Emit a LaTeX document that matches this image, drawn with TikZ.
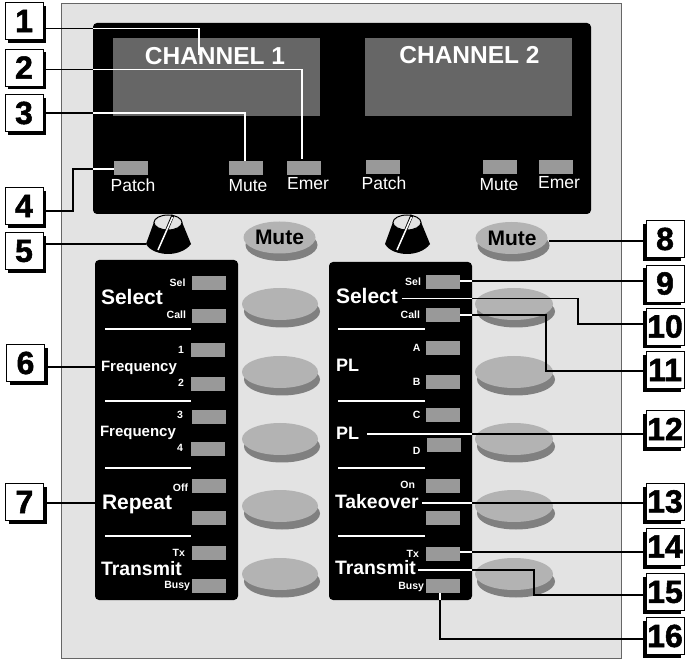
\documentclass[tikz,border=0pt]{standalone}
\usepackage{fontspec}
\setmainfont{Liberation Sans}
\newfontfamily\digitfont[FakeBold=1.6]{Liberation Sans Bold}
\usetikzlibrary{shadows,calc}
\definecolor{panelbg}{HTML}{E3E3E3}
\definecolor{screengray}{HTML}{666666}
\definecolor{ledgray}{HTML}{999999}
\definecolor{btntop}{HTML}{B3B3B3}
\definecolor{btnshade}{HTML}{808080}
\newcommand{\fsz}[1]{\fontsize{#1}{#1}\selectfont}
\tikzset{
  x=1pt,y=-1pt,
  ledbox/.style={fill=ledgray,minimum width=34pt,minimum height=14pt,inner sep=0pt,outer sep=0pt},
  darkpane/.style={fill=black,rounded corners=4pt},
  txt/.style={inner sep=0pt,outer sep=0pt,text=white},
  big/.style={txt,anchor=base west,font=\bfseries\fsz{21}},
  freq/.style={txt,anchor=base west,font=\bfseries\fsz{15}},
  tiny/.style={txt,anchor=base east,font=\bfseries\fsz{10.5}},
  plain/.style={txt,anchor=base,font=\fsz{17.5}},
  chan/.style={txt,anchor=base,font=\bfseries\fsz{24.5}},
  divider/.style={draw=white,line width=1.6pt},
  wire/.style={draw=white,line width=1.7pt},
  blackwire/.style={draw=black,line width=1.7pt},
  callL/.style={draw=black,fill=white,line width=.8pt,minimum width=38pt,minimum height=37pt,inner sep=0pt,font=\digitfont\fsz{32},text=black,
     drop shadow={shadow xshift=3pt,shadow yshift=-3.5pt,fill=black,opacity=1}},
  callR/.style={draw=black,fill=white,line width=.8pt,minimum width=38pt,minimum height=37pt,inner sep=0pt,font=\digitfont\fsz{32},text=black,
     drop shadow={shadow xshift=-3pt,shadow yshift=-3.5pt,fill=black,opacity=1}},
}
\newcommand{\btn}[3]{% cx, cy, rx
  \fill[btnshade] (#1+2,#2+7.5) ellipse [x radius=#3,y radius=16];
  \fill[btntop] (#1,#2) ellipse [x radius=#3,y radius=16];
}
\newcommand{\knob}[1]{% cx
  \fill[black] (#1-14,222) -- (#1-22,244) .. controls (#1-18,251) and (#1-8,254) .. (#1,254) .. controls (#1+8,254) and (#1+18,251) .. (#1+23,244) -- (#1+14,222) -- cycle;
  \draw[black,fill=panelbg,line width=1pt] (#1,222.5) ellipse [x radius=14,y radius=7.5];
  \draw[black,line width=3pt] (#1-10,251) -- (#1+5,215);
  \draw[white,line width=1.5pt] (#1-10,250) -- (#1+4.5,217);
}
\begin{document}
\begin{tikzpicture}
\useasboundingbox (0,0) rectangle (686,660);
\draw[draw=screengray,fill=panelbg,line width=1pt] (61,4) rectangle (621,658);
% display
\fill[darkpane] (93,23) rectangle (591,214);
\fill[screengray] (113,38) rectangle (320,116);
\fill[screengray] (365,38) rectangle (572,116);
\node[chan] (ch1) at (215,65) {CHANNEL 1};
\node[chan] (ch2) at (469.5,64) {CHANNEL 2};
\node[ledbox] (patchA) at (131,168) {};
\node[ledbox] (muteA) at (246,168) {};
\node[ledbox] (emerA) at (304,168) {};
\node[ledbox] (patchB) at (383,167) {};
\node[ledbox] (muteB) at (500,167) {};
\node[ledbox] (emerB) at (556,167) {};
\node[plain] (tpatchA) at (133,191.5) {Patch};
\node[plain] (tmuteA) at (248,191.5) {Mute};
\node[plain] (temerA) at (308,190) {Emer};
\node[plain] (tpatchB) at (384,190) {Patch};
\node[plain] (tmuteB) at (499,191) {Mute};
\node[plain] (temerB) at (559,189) {Emer};
% knobs and mute buttons
\knob{168}
\knob{407}
\btn{279.5}{237.5}{36}
\btn{511.5}{238}{36}
\node[txt,anchor=base,text=black,font=\bfseries\fsz{21}] (mA) at (279.5,245) {Mute};
\node[txt,anchor=base,text=black,font=\bfseries\fsz{21}] (mB) at (512,245.5) {Mute};
% buttons
\foreach \yy in {304,372,439,506,574}{
  \btn{280}{\yy}{38}
  \btn{514}{\yy}{39}
}
% lower panes
\fill[darkpane] (95,260) rectangle (238,600);
\fill[darkpane] (329,262) rectangle (472,600);
\foreach \yy in {329,401,468,536}{
  \draw[divider] (105,\yy) -- (191,\yy);
  \draw[divider] (338,\yy) -- (425,\yy);
}
% left LEDs
\node[ledbox] (lsel) at (209,283) {};
\node[ledbox] (lcall) at (209,316) {};
\node[ledbox] (l1) at (208,350) {};
\node[ledbox] (l2) at (208,384) {};
\node[ledbox] (l3) at (209,417) {};
\node[ledbox] (l4) at (208,449) {};
\node[ledbox] (loff) at (209,486) {};
\node[ledbox] (lblank) at (209,518) {};
\node[ledbox] (ltx) at (209,553) {};
\node[ledbox] (lbusy) at (209,586) {};
% right LEDs
\node[ledbox] (rsel) at (443,282) {};
\node[ledbox] (rcall) at (443,315) {};
\node[ledbox] (ra) at (443,348) {};
\node[ledbox] (rb) at (443,382) {};
\node[ledbox] (rc) at (443,415) {};
\node[ledbox] (rd) at (444,445) {};
\node[ledbox] (ron) at (443,486) {};
\node[ledbox] (rblank) at (443,518) {};
\node[ledbox] (rtx) at (443,554) {};
\node[ledbox] (rbusy) at (443,586) {};
% left labels
\node[big] (tselL) at (101,305) {Select};
\node[freq] (tf1) at (101,372) {Frequency};
\node[freq] (tf2) at (100,437) {Frequency};
\node[big] (trep) at (102,509) {Repeat};
\node[big,font=\bfseries\fsz{19.4}] (ttxL) at (101,575) {Transmit};
\node[tiny] at (185.5,287) {Sel};
\node[tiny] at (186,319) {Call};
\node[tiny] at (184,354) {1};
\node[tiny] at (184,387) {2};
\node[tiny] at (183,419) {3};
\node[tiny] at (183,452) {4};
\node[tiny] at (188,491) {Off};
\node[tiny] at (185,556) {Tx};
\node[tiny] at (190,588) {Busy};
% right labels
\node[big] (tselR) at (336,304) {Select};
\node[big,font=\bfseries\fsz{18}] (tpl1) at (336,372) {PL};
\node[big,font=\bfseries\fsz{18}] (tpl2) at (336,439) {PL};
\node[big,font=\bfseries\fsz{19.4}] (ttake) at (335,508) {Takeover};
\node[big,font=\bfseries\fsz{19.4}] (ttxR) at (335,574) {Transmit};
\node[tiny] at (421,286) {Sel};
\node[tiny] at (420,319) {Call};
\node[tiny] at (420.5,352) {A};
\node[tiny] at (420.5,386) {B};
\node[tiny] at (420.5,419) {C};
\node[tiny] at (420.5,454) {D};
\node[tiny] at (415,489) {On};
\node[tiny] at (419,557) {Tx};
\node[tiny] at (424,589) {Busy};
% callouts
\node[callL] (b1) at (24,21) {1};
\node[callL] (b2) at (24,67.5) {2};
\node[callL] (b3) at (24,113) {3};
\node[callL] (b4) at (24,206) {4};
\node[callL] (b5) at (24,251) {5};
\node[callL] (b6) at (25.5,363) {6};
\node[callL] (b7) at (24.5,502) {7};
\node[callR] (b8) at (665,239) {8};
\node[callR] (b9) at (665,283.5) {9};
\node[callR] (b10) at (665,326.5) {10};
\node[callR] (b11) at (665,370) {11};
\node[callR] (b12) at (665,429) {12};
\node[callR] (b13) at (665,501.5) {13};
\node[callR] (b14) at (665,546.5) {14};
\node[callR] (b15) at (665,592) {15};
\node[callR] (b16) at (665,636) {16};
% connector joints
\coordinate (j1) at (93,28.5); \coordinate (e1a) at (199,28.5); \coordinate (e1) at (199,55);
\coordinate (j2) at (93,69.5); \coordinate (e2a) at (302,69.5); \coordinate (e2) at (302,159);
\coordinate (j3) at (93,113); \coordinate (e3a) at (245,113);
\coordinate (k4a) at (73,211); \coordinate (k4b) at (73,169); \coordinate (j4) at (93,169);
\coordinate (j10) at (472,298.5); \coordinate (k10a) at (578,298.5); \coordinate (k10b) at (578,324);
\coordinate (j11) at (472,315); \coordinate (k11a) at (546,315); \coordinate (k11b) at (546,371);
\coordinate (j15) at (472,570); \coordinate (k15a) at (534,570); \coordinate (k15b) at (534,595);
\coordinate (j16) at (440,600); \coordinate (k16) at (440,639);
\coordinate (s10) at (402,298.5);
\coordinate (s15) at (418,570);
% connectors
\draw[blackwire] (b1.east |- j1) -- (j1);
\draw[wire] (j1) -- (e1a) -- (e1);
\draw[blackwire] (b2.east |- j2) -- (j2);
\draw[wire] (j2) -- (e2a) -- (e2);
\draw[blackwire] (b3.east |- j3) -- (j3);
\draw[wire] (j3) -- (e3a) -- (e3a |- muteA.north);
\draw[blackwire] (b4.east |- k4a) -- (k4a) -- (k4b) -- (j4);
\draw[wire] (j4) -- (patchA.west |- j4);
\coordinate (k5) at (146,244);
\draw[blackwire] (b5.east |- k5) -- (k5);
\coordinate (k6) at (95,367);
\draw[blackwire] (b6.east |- k6) -- (k6);
\coordinate (k7) at (95,503);
\draw[blackwire] (b7.east |- k7) -- (k7);
\coordinate (k8) at (549,241);
\draw[blackwire] (b8.west |- k8) -- (k8);
\coordinate (j9) at (472,281);
\draw[blackwire] (b9.west |- j9) -- (j9);
\draw[wire] (j9) -- (rsel.east |- j9);
\draw[wire] (s10) -- (j10);
\draw[blackwire] (j10) -- (k10a) -- (k10b) -- (b10.west |- k10b);
\draw[wire] (rcall.east |- j11) -- (j11);
\draw[blackwire] (j11) -- (k11a) -- (k11b) -- (b11.west |- k11b);
\coordinate (j12) at (472,434); \coordinate (s12) at (367,434);
\draw[wire] (s12) -- (j12);
\draw[blackwire] (j12) -- (b12.west |- j12);
\coordinate (j13) at (472,503); \coordinate (s13) at (422,503);
\draw[wire] (s13) -- (j13);
\draw[blackwire] (j13) -- (b13.west |- j13);
\coordinate (j14) at (472,552);
\draw[wire] (rtx.east |- j14) -- (j14);
\draw[blackwire] (j14) -- (b14.west |- j14);
\draw[wire] (s15) -- (j15);
\draw[blackwire] (j15) -- (k15a) -- (k15b) -- (b15.west |- k15b);
\draw[wire] (j16 |- rbusy.south) -- (j16);
\draw[blackwire] (j16) -- (k16) -- (b16.west |- k16);
\end{tikzpicture}
\end{document}
